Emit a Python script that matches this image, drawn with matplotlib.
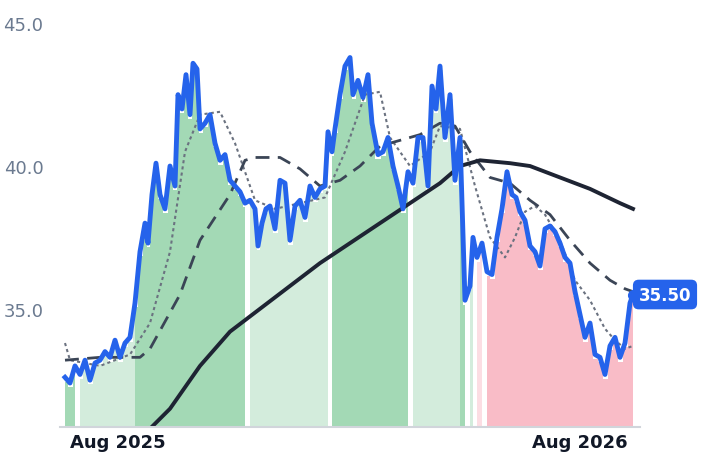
import numpy as np
import matplotlib
matplotlib.use("Agg")
import matplotlib.pyplot as plt

# session position (0..568) and close price
t = [0,5,10,15,20,25,30,35,40,45,50,55,60,65,70,75,80,83,87,91,95,100,105,110,113,117,121,125,128,132,135,140,145,150,155,160,165,170,175,180,185,190,193,197,201,205,210,215,220,225,230,235,240,245,250,255,260,263,267,270,275,280,285,288,293,298,303,307,313,318,323,328,333,338,343,348,353,358,363,367,371,375,380,385,390,395,400,405,408,412,417,422,427,432,437,442,447,451,455,460,465,470,475,480,485,490,495,500,505,510,515,520,525,530,535,540,545,550,555,560,565,568]
price = [32.6,32.4,33.0,32.7,33.2,32.5,33.1,33.2,33.5,33.3,33.9,33.3,33.8,34.0,35.2,37.0,38.0,37.3,39.0,40.1,39.0,38.5,40.0,39.3,42.5,42.0,43.2,41.8,43.6,43.4,41.3,41.5,41.8,40.8,40.2,40.4,39.5,39.3,39.1,38.7,38.8,38.5,37.2,38.0,38.5,38.6,37.8,39.5,39.4,37.4,38.6,38.8,38.2,39.3,38.9,39.2,39.3,41.2,40.5,41.3,42.5,43.5,43.8,42.5,43.0,42.4,43.2,41.5,40.4,40.5,41.0,40.0,39.3,38.5,39.8,39.4,41.0,41.0,39.3,42.8,42.0,43.5,41.0,42.5,39.5,41.0,35.3,35.8,37.5,36.8,37.3,36.3,36.2,37.5,38.5,39.8,39.0,38.9,38.4,38.1,37.2,37.0,36.5,37.8,37.9,37.7,37.3,36.8,36.6,35.6,34.8,34.0,34.5,33.4,33.3,32.7,33.7,34.0,33.3,33.8,35.2,35.5]

t_ma20 = [0,35,75,85,115,135,165,180,190,215,235,255,275,295,315,335,355,375,390,405,425,445,465,485,505,525,545,560,568]
ma20 = [33.2,33.3,33.3,33.6,35.5,37.4,39.0,40.2,40.3,40.3,39.9,39.3,39.5,40.0,40.7,40.9,41.1,41.5,41.4,40.5,39.6,39.4,38.8,38.3,37.4,36.6,36.0,35.7,35.6]

t_ma10 = [0,5,35,65,85,105,120,135,155,170,190,210,235,260,280,300,315,325,345,365,375,395,410,425,440,450,460,470,480,495,510,525,540,550,560,568]
ma10 = [33.8,33.2,33.0,33.4,34.5,37.0,40.5,41.8,41.9,40.8,38.8,38.5,38.7,38.9,40.5,42.5,42.6,41.0,40.0,40.5,41.4,41.3,39.3,37.5,36.8,37.5,38.4,38.6,38.3,37.4,36.0,35.3,34.3,33.9,33.6,33.7]

t_ma200 = [85,105,135,165,195,225,255,285,315,345,375,395,415,445,465,495,525,555,568]
ma200 = [30.8,31.5,33.0,34.2,35.0,35.8,36.6,37.3,38.0,38.7,39.4,40.0,40.2,40.1,40.0,39.6,39.2,38.7,38.5]

# regime bands: start, end, colour
bands = [(0,13,"#a3d9b5"),(13,70,"#d3ecdc"),(70,183,"#a3d9b5"),(183,265,"#d3ecdc"),
         (265,345,"#a3d9b5"),(345,395,"#d3ecdc"),(395,403,"#a3d9b5"),(403,410,"#d3ecdc"),
         (410,420,"#fcdde3"),(420,568,"#f9bcc7")]

tick_pos = [53, 515]
tick_labels = ["Aug 2025", "Aug 2026"]

fig = plt.figure(figsize=(7.18, 4.64), dpi=100)
ax = fig.add_axes([60/718, 36/464, 580/718, 418/464])
ymin = 30.86
tt = np.array(t, float); pp = np.array(price)
for s, e, c in bands:
    m = (tt >= s) & (tt <= e)
    ax.fill_between(tt, ymin, pp - 0.15, where=m, step="mid", color=c, lw=0, interpolate=False)
ax.plot(t_ma10, ma10, color="#6b7280", lw=1.5, ls=(0, (1.5, 1.5)))
ax.plot(t_ma20, ma20, color="#3b4556", lw=2, ls=(0, (5, 3)))
ax.plot(t_ma200, ma200, color="#1e2433", lw=2.8)
ax.plot(t, price, color="#2563eb", lw=3.5, solid_joinstyle="round")
ax.plot([t[-1]], [price[-1]], "o", color="#2563eb", ms=7, zorder=5)
ax.text(600, price[-1], f"{price[-1]:.2f}", color="white", fontsize=12, fontweight="bold",
        va="center", ha="center",
        bbox=dict(boxstyle="round,pad=0.35", fc="#2563eb", ec="none"))

ax.set_xlim(-5, 575)
ax.set_ylim(ymin, 45.5)
ax.set_yticks([35, 40, 45])
ax.set_yticklabels(["35.0", "40.0", "45.0"], color="#6b7a90", fontsize=13)
ax.set_xticks(tick_pos)
ax.set_xticklabels(tick_labels, fontsize=13, fontweight="bold", color="#111827")
ax.tick_params(length=0, pad=4)
ax.tick_params(axis="y", pad=12)
for s in ["top", "right", "left"]:
    ax.spines[s].set_visible(False)
ax.spines["bottom"].set_color("#d1d5db")
ax.spines["bottom"].set_linewidth(1.5)
ax.patch.set_alpha(0)
fig.savefig("out.png", dpi=100)
